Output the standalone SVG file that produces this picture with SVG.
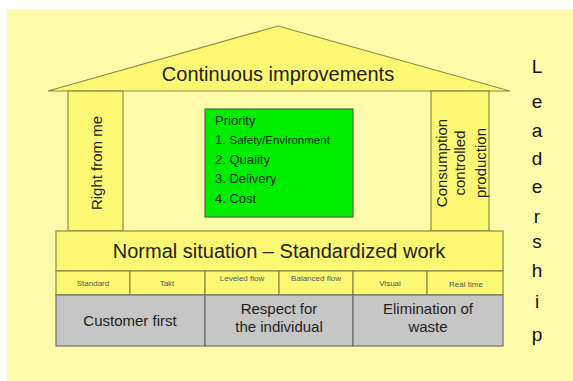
<svg xmlns="http://www.w3.org/2000/svg" width="573" height="381" viewBox="0 0 573 381">
  <style>
    .bg { fill: #fefca8; }
    .part { fill: #fdf874; stroke: #8c8a40; stroke-width: 1.2; }
    .base { fill: #c6c6c6; stroke: #6e6e6e; stroke-width: 1.2; }
    .prio { fill: #00ee00; stroke: #4a6a3a; stroke-width: 1.2; }
    text { font-family: "Liberation Sans", Arial, sans-serif; fill: #222; }
    .big { font-size: 20px; text-anchor: middle; }
    .mid { font-size: 15px; text-anchor: middle; }
    .col { font-size: 15px; text-anchor: middle; }
    .small { font-size: 8px; text-anchor: middle; fill: #555; }
    .list { font-size: 13px; fill: #1a2a10; }
    .lead { font-size: 19px; text-anchor: middle; fill: #111; }
  </style>

  <rect x="0" y="0" width="573" height="381" fill="#ffffff"/>
  <rect class="bg" x="7" y="9" width="566" height="372"/>

  <!-- roof -->
  <g id="roof">
    <polygon class="part" points="278,26 510,91 48,91"/>
    <text class="big" x="278" y="81">Continuous improvements</text>
  </g>

  <!-- left pillar -->
  <g id="pillar-left">
    <rect class="part" x="68" y="91" width="55" height="140"/>
    <text class="col" font-size="17" transform="translate(102,163) rotate(-90)">Right from me</text>
  </g>

  <!-- right pillar -->
  <g id="pillar-right">
    <rect class="part" x="431" y="91" width="58" height="140"/>
    <text class="col" transform="translate(447,163) rotate(-90)">Consumption</text>
    <text class="col" transform="translate(465,163) rotate(-90)">controlled</text>
    <text class="col" transform="translate(486,163) rotate(-90)">production</text>
  </g>

  <!-- priority box -->
  <g id="priority">
    <rect class="prio" x="205" y="109" width="148" height="108"/>
    <text class="list" x="215" y="125">Priority</text>
    <text class="list" x="215" y="144">1. <tspan font-size="11.5">Safety/Environment</tspan></text>
    <text class="list" x="215" y="164">2. Quality</text>
    <text class="list" x="215" y="183">3. Delivery</text>
    <text class="list" x="215" y="203">4. Cost</text>
  </g>

  <!-- floor -->
  <g id="standardized-work">
    <rect class="part" x="56" y="231" width="447" height="40"/>
    <text class="big" x="279" y="258">Normal situation – Standardized work</text>
  </g>

  <g id="tools">
    <rect class="part" x="56" y="271" width="74" height="24"/>
    <rect class="part" x="130" y="271" width="75" height="24"/>
    <rect class="part" x="205" y="271" width="74" height="24"/>
    <rect class="part" x="279" y="271" width="74" height="24"/>
    <rect class="part" x="353" y="271" width="74" height="24"/>
    <rect class="part" x="427" y="271" width="76" height="24"/>
    <text class="small" x="93" y="286">Standard</text>
    <text class="small" x="167" y="286">Takt</text>
    <text class="small" x="242" y="281">Leveled flow</text>
    <text class="small" x="316" y="281">Balanced  flow</text>
    <text class="small" x="390" y="286">Visual</text>
    <text class="small" x="466" y="287">Real time</text>
  </g>

  <!-- foundation -->
  <g id="foundation">
    <rect class="base" x="56" y="295" width="149" height="51"/>
    <rect class="base" x="205" y="295" width="148" height="51"/>
    <rect class="base" x="353" y="295" width="150" height="51"/>
    <text class="mid" x="130" y="326">Customer first</text>
    <text class="mid" x="279" y="314">Respect for</text>
    <text class="mid" x="279" y="332">the individual</text>
    <text class="mid" x="428" y="314">Elimination of</text>
    <text class="mid" x="428" y="332">waste</text>
  </g>

  <!-- side label -->
  <g id="leadership">
    <text class="lead" x="537" y="73">L</text>
    <text class="lead" x="537" y="108">e</text>
    <text class="lead" x="537" y="137">a</text>
    <text class="lead" x="537" y="165">d</text>
    <text class="lead" x="537" y="193">e</text>
    <text class="lead" x="537" y="223">r</text>
    <text class="lead" x="537" y="248">s</text>
    <text class="lead" x="537" y="277">h</text>
    <text class="lead" x="537" y="308">i</text>
    <text class="lead" x="537" y="341">p</text>
  </g>
</svg>
